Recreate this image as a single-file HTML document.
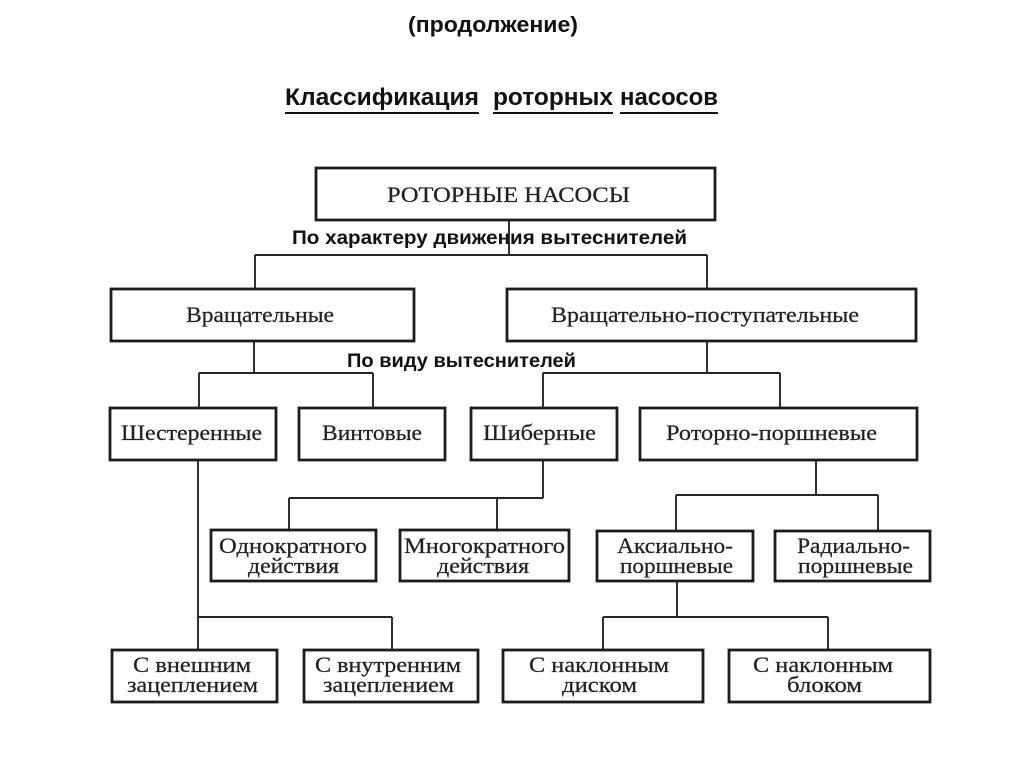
<!DOCTYPE html>
<html>
<head>
<meta charset="utf-8">
<style>
html,body{margin:0;padding:0;background:#fff;}
svg{display:block;}
.b{fill:#fff;stroke:#1c1c1c;stroke-width:2.8;}
.c{stroke:#262626;stroke-width:1.9;fill:none;}
.t{font-family:"Liberation Serif","Noto Serif CJK SC",serif;font-size:22px;fill:#222;stroke:#222;stroke-width:0.25;}
.s{font-family:"Liberation Sans","Noto Sans CJK SC",sans-serif;font-weight:bold;fill:#111;}
</style>
</head>
<body>
<svg width="1024" height="767" viewBox="0 0 1024 767" xmlns="http://www.w3.org/2000/svg">
<rect width="1024" height="767" fill="#fff"/>

<!-- Titles -->
<text class="s" x="408" y="32" font-size="22" textLength="170" lengthAdjust="spacingAndGlyphs">(продолжение)</text>
<text class="s" x="285" y="105" font-size="24" textLength="194" lengthAdjust="spacingAndGlyphs">Классификация</text>
<text class="s" x="493" y="105" font-size="24" textLength="120" lengthAdjust="spacingAndGlyphs">роторных</text>
<text class="s" x="620" y="105" font-size="24" textLength="98" lengthAdjust="spacingAndGlyphs">насосов</text>
<line x1="285" y1="113" x2="479" y2="113" stroke="#111" stroke-width="2"/>
<line x1="493" y1="113" x2="613" y2="113" stroke="#111" stroke-width="2"/>
<line x1="620" y1="113" x2="718" y2="113" stroke="#111" stroke-width="2"/>

<!-- Section labels -->
<text class="s" x="292" y="244" font-size="19" textLength="395" lengthAdjust="spacingAndGlyphs">По характеру движения вытеснителей</text>
<text class="s" x="347" y="367" font-size="19" textLength="229" lengthAdjust="spacingAndGlyphs">По виду вытеснителей</text>

<!-- Connectors -->
<path class="c" d="M509 221 V255 M255 255 H707 M255 255 V288 M707 255 V288"/>
<path class="c" d="M254 342 V373 M199 373 H373 M199 373 V407 M373 373 V407"/>
<path class="c" d="M707 342 V373 M543 373 H780 M543 373 V407 M780 373 V407"/>
<path class="c" d="M198 461 V649 M198 617 H392 M392 617 V649"/>
<path class="c" d="M543 461 V498 M289 498 H543 M289 498 V529 M497 498 V529"/>
<path class="c" d="M816 461 V495 M676 495 H878 M676 495 V530 M878 495 V530"/>
<path class="c" d="M677 582 V617 M603 617 H828 M603 617 V649 M828 617 V649"/>

<!-- Boxes -->
<rect class="b" x="316" y="168" width="399" height="52"/>
<rect class="b" x="111" y="289" width="303" height="52"/>
<rect class="b" x="507" y="289" width="409" height="52"/>
<rect class="b" x="110" y="408" width="166" height="52"/>
<rect class="b" x="299" y="408" width="146" height="52"/>
<rect class="b" x="471" y="408" width="146" height="52"/>
<rect class="b" x="640" y="408" width="277" height="52"/>
<rect class="b" x="211" y="530" width="165" height="51"/>
<rect class="b" x="400" y="530" width="169" height="51"/>
<rect class="b" x="597" y="531" width="156" height="50"/>
<rect class="b" x="775" y="531" width="155" height="50"/>
<rect class="b" x="112" y="650" width="165" height="52"/>
<rect class="b" x="304" y="650" width="174" height="52"/>
<rect class="b" x="503" y="650" width="200" height="52"/>
<rect class="b" x="729" y="650" width="201" height="52"/>

<!-- Box texts -->
<text class="t" x="387" y="202" textLength="243" lengthAdjust="spacingAndGlyphs">РОТОРНЫЕ НАСОСЫ</text>
<text class="t" x="186" y="322" textLength="148" lengthAdjust="spacingAndGlyphs">Вращательные</text>
<text class="t" x="551" y="322" textLength="308" lengthAdjust="spacingAndGlyphs">Вращательно-поступательные</text>

<text class="t" x="121" y="440" textLength="141" lengthAdjust="spacingAndGlyphs">Шестеренные</text>
<text class="t" x="322" y="440" textLength="100" lengthAdjust="spacingAndGlyphs">Винтовые</text>
<text class="t" x="483" y="440" textLength="113" lengthAdjust="spacingAndGlyphs">Шиберные</text>
<text class="t" x="666" y="440" textLength="211" lengthAdjust="spacingAndGlyphs">Роторно-поршневые</text>

<text class="t" x="219" y="553" textLength="148" lengthAdjust="spacingAndGlyphs">Однократного</text>
<text class="t" x="248" y="573" textLength="91" lengthAdjust="spacingAndGlyphs">действия</text>
<text class="t" x="404" y="553" textLength="161" lengthAdjust="spacingAndGlyphs">Многократного</text>
<text class="t" x="437" y="573" textLength="92" lengthAdjust="spacingAndGlyphs">действия</text>
<text class="t" x="617" y="553" textLength="116" lengthAdjust="spacingAndGlyphs">Аксиально-</text>
<text class="t" x="620" y="573" textLength="113" lengthAdjust="spacingAndGlyphs">поршневые</text>
<text class="t" x="797" y="553" textLength="113" lengthAdjust="spacingAndGlyphs">Радиально-</text>
<text class="t" x="798" y="573" textLength="115" lengthAdjust="spacingAndGlyphs">поршневые</text>

<text class="t" x="133" y="672" textLength="118" lengthAdjust="spacingAndGlyphs">С внешним</text>
<text class="t" x="127" y="692" textLength="131" lengthAdjust="spacingAndGlyphs">зацеплением</text>
<text class="t" x="315" y="672" textLength="146" lengthAdjust="spacingAndGlyphs">С внутренним</text>
<text class="t" x="323" y="692" textLength="131" lengthAdjust="spacingAndGlyphs">зацеплением</text>
<text class="t" x="529" y="672" textLength="140" lengthAdjust="spacingAndGlyphs">С наклонным</text>
<text class="t" x="562" y="692" textLength="75" lengthAdjust="spacingAndGlyphs">диском</text>
<text class="t" x="753" y="672" textLength="140" lengthAdjust="spacingAndGlyphs">С наклонным</text>
<text class="t" x="787" y="692" textLength="75" lengthAdjust="spacingAndGlyphs">блоком</text>
</svg>
</body>
</html>
